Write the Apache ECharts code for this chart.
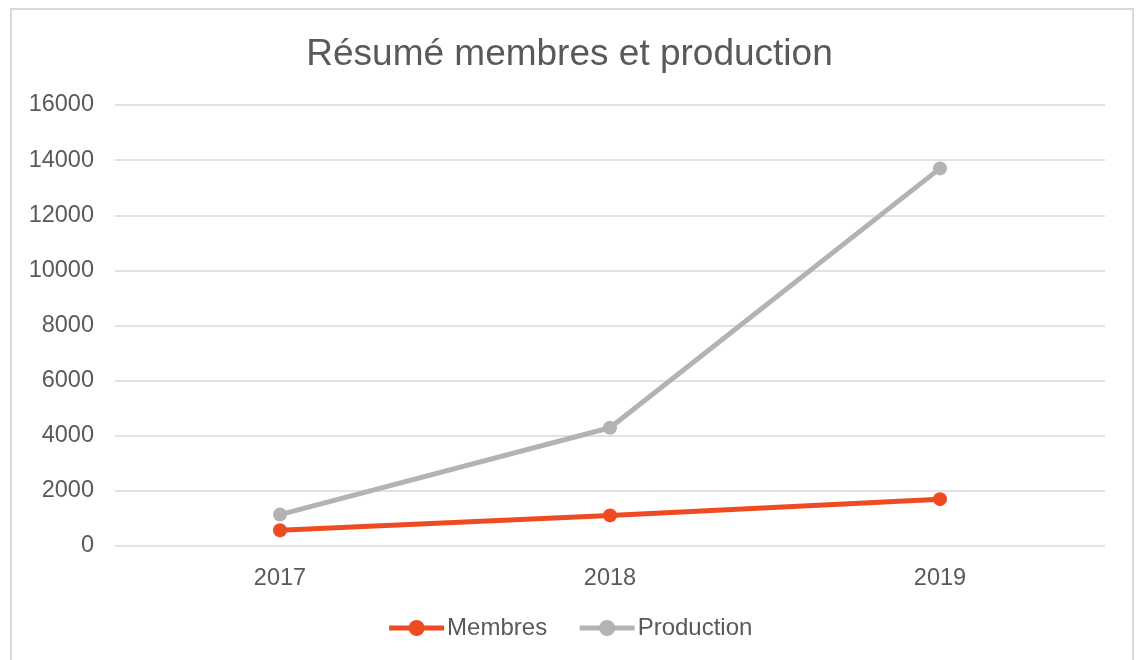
<!DOCTYPE html>
<html>
<head>
<meta charset="utf-8">
<script src="https://cdn.jsdelivr.net/npm/echarts@6/dist/echarts.min.js"></script>
<style>
  html, body { margin: 0; padding: 0; background: #fff; }
  #chart { width: 1139px; height: 660px; }
</style>
</head>
<body>
<div id="chart"></div>
<script>
// données
var years = ['2017', '2018', '2019'];
var membres = [570, 1110, 1700];
var production = [1140, 4290, 13700];
var yTicks = [0, 2000, 4000, 6000, 8000, 10000, 12000, 14000, 16000];

var textColor = '#595959';
var chart = echarts.init(document.getElementById('chart'));

chart.setOption({
  animation: false,
  textStyle: { fontFamily: 'Liberation Sans, Arial, sans-serif' },
  title: {
    text: 'Résumé membres et production',
    left: 'center',
    top: 31,
    textStyle: { fontSize: 37, fontWeight: 'normal', color: textColor }
  },
  // cadre du graphique
  graphic: [{
    type: 'rect',
    shape: { x: 11, y: 9, width: 1122, height: 680 },
    style: { fill: 'none', stroke: '#d9d9d9', lineWidth: 2 },
    silent: true
  }],
  legend: {
    bottom: 15,
    left: 'center',
    itemWidth: 55,
    itemHeight: 20,
    itemGap: 30,
    lineStyle: { width: 5 },
    textStyle: { fontSize: 24, color: textColor, padding: [0, 0, 0, -2] },
    data: ['Membres', 'Production']
  },
  grid: { left: 115, right: 34, top: 105, bottom: 114 },
  xAxis: {
    type: 'category',
    data: years,
    boundaryGap: true,
    axisLine: { show: false },
    axisTick: { show: false },
    axisLabel: { fontSize: 23.5, color: textColor, margin: 21 }
  },
  yAxis: {
    type: 'value',
    min: yTicks[0],
    max: yTicks[yTicks.length - 1],
    interval: 2000,
    axisLine: { show: false },
    axisTick: { show: false },
    axisLabel: {
      fontSize: 23.5,
      color: textColor,
      margin: 21,
      formatter: function (v) { return String(v); }
    },
    splitLine: { lineStyle: { color: '#d9d9d9', width: 1.5 } }
  },
  series: [
    {
      name: 'Membres',
      type: 'line',
      data: membres,
      symbol: 'circle',
      symbolSize: 14,
      color: '#EE4B22',
      lineStyle: { width: 5 }
    },
    {
      name: 'Production',
      type: 'line',
      data: production,
      symbol: 'circle',
      symbolSize: 14,
      color: '#B3B3B3',
      lineStyle: { width: 5 }
    }
  ]
});
</script>
</body>
</html>
